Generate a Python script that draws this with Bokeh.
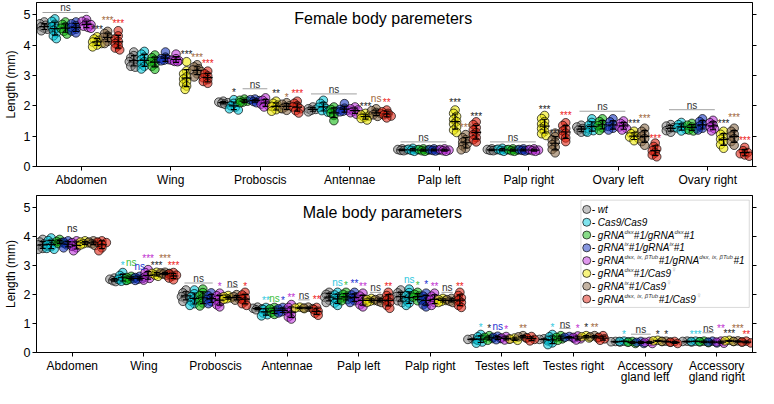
import numpy as np
from bokeh.plotting import figure
from bokeh.models import Range1d, FixedTicker, LinearAxis, Label, BoxAnnotation, ColumnDataSource
from bokeh.layouts import column
from bokeh.embed import file_html
from bokeh.resources import INLINE
from bokeh.core.properties import value

# ---------------- data ----------------
GENOTYPES = ["wt", "Cas9/Cas9", "gRNA dsx#1/gRNA dsx#1", "gRNA ix#1/gRNA ix#1",
             "gRNA dsx,ix,bTub#1/gRNA dsx,ix,bTub#1", "gRNA dsx#1/Cas9", "gRNA ix#1/Cas9",
             "gRNA dsx,ix,bTub#1/Cas9"]
COLORS = ["#8a8a8a", "#00c8dc", "#10b810", "#1030c0", "#c030dc", "#f0ea00", "#8a6a48", "#e02010"]

F_CATS = ["Abdomen", "Wing", "Proboscis", "Antennae", "Palp left", "Palp right", "Ovary left", "Ovary right"]
M_CATS = ["Abdomen", "Wing", "Proboscis", "Antennae", "Palp left", "Palp right", "Testes left",
          "Testes right", "Accessory\ngland left", "Accessory\ngland right"]

# Female
F_ABDOMEN = [[4.76, 4.7, 4.65, 4.6, 4.6, 4.55, 4.52, 4.47],
             [4.86, 4.78, 4.68, 4.6, 4.55, 4.48, 4.4, 4.3, 4.21],
             [4.76, 4.68, 4.6, 4.55, 4.5, 4.45, 4.36],
             [4.76, 4.7, 4.64, 4.58, 4.52, 4.46, 4.4],
             [4.84, 4.78, 4.72, 4.67, 4.62, 4.58, 4.55],
             [4.27, 4.2, 4.15, 4.1, 4.05, 4.0, 3.94],
             [4.45, 4.38, 4.3, 4.25, 4.2, 4.12, 4.05],
             [4.47, 4.3, 4.2, 4.12, 4.05, 3.98, 3.9, 3.84]]
F_WING = [[3.77, 3.65, 3.58, 3.5, 3.45, 3.38, 3.3, 3.27],
          [3.79, 3.7, 3.6, 3.52, 3.45, 3.38, 3.3, 3.21],
          [3.67, 3.58, 3.5, 3.45, 3.38, 3.3, 3.2],
          [3.77, 3.6, 3.55, 3.52, 3.5, 3.48],
          [3.7, 3.55, 3.5, 3.48, 3.46, 3.45],
          [3.45, 3.15, 3.05, 2.95, 2.88, 2.8, 2.72, 2.65, 2.54],
          [3.35, 3.28, 3.22, 3.18, 3.12, 3.05, 2.95],
          [3.14, 3.05, 2.98, 2.92, 2.86, 2.8, 2.74]]
F_PROBOSCIS = [[2.15, 2.12, 2.1, 2.08, 2.05],
               [2.2, 2.08, 2.0, 1.95, 1.9, 1.86],
               [2.22, 2.18, 2.15, 2.12, 2.1],
               [2.22, 2.2, 2.17, 2.14, 2.1],
               [2.26, 2.18, 2.1, 2.05, 2.0, 1.96],
               [2.15, 2.08, 2.02, 1.98, 1.92, 1.87, 1.82],
               [2.1, 2.05, 2.0, 1.96, 1.9, 1.85],
               [2.15, 2.08, 2.0, 1.96, 1.9, 1.84, 1.76]]
F_ANTENNAE = [[1.96, 1.9, 1.88, 1.85, 1.8],
              [2.18, 2.08, 2.0, 1.95, 1.9, 1.84, 1.79],
              [1.96, 1.88, 1.82, 1.76, 1.68, 1.51],
              [2.07, 1.92, 1.88, 1.85, 1.82, 1.8],
              [1.96, 1.9, 1.86, 1.82, 1.77, 1.72],
              [1.75, 1.7, 1.66, 1.62, 1.58, 1.53],
              [1.9, 1.84, 1.78, 1.74, 1.7, 1.65],
              [1.86, 1.8, 1.75, 1.7, 1.66, 1.6]]
F_PALP_LEFT = [[0.58, 0.56, 0.55, 0.53, 0.52],
               [0.6, 0.57, 0.55, 0.53, 0.5],
               [0.58, 0.56, 0.54, 0.52, 0.5],
               [0.58, 0.56, 0.54, 0.53, 0.51],
               [0.58, 0.56, 0.54, 0.52, 0.5],
               [1.86, 1.75, 1.65, 1.55, 1.48, 1.4, 1.3, 1.2, 1.12],
               [1.05, 0.95, 0.88, 0.8, 0.74, 0.68, 0.6, 0.55],
               [1.47, 1.38, 1.28, 1.2, 1.12, 1.05, 0.95, 0.88, 0.81]]
F_PALP_RIGHT = [[0.58, 0.56, 0.55, 0.53, 0.52],
                [0.6, 0.57, 0.55, 0.53, 0.5],
                [0.58, 0.56, 0.54, 0.52, 0.5],
                [0.58, 0.56, 0.54, 0.53, 0.51],
                [0.58, 0.56, 0.54, 0.52, 0.5],
                [1.68, 1.58, 1.48, 1.4, 1.33, 1.25, 1.15, 1.08, 1.02],
                [1.1, 0.98, 0.88, 0.8, 0.72, 0.64, 0.56, 0.45],
                [1.44, 1.35, 1.25, 1.17, 1.1, 1.02, 0.94, 0.82]]
F_OVARY_LEFT = [[1.36, 1.3, 1.25, 1.2, 1.16, 1.13],
                [1.57, 1.45, 1.36, 1.3, 1.24, 1.18, 1.13],
                [1.57, 1.48, 1.4, 1.34, 1.27, 1.19],
                [1.57, 1.47, 1.38, 1.32, 1.26, 1.2],
                [1.5, 1.42, 1.35, 1.3, 1.25, 1.2],
                [1.16, 1.08, 1.02, 0.97, 0.92, 0.85],
                [1.26, 1.16, 1.07, 1.0, 0.92, 0.82, 0.7],
                [0.77, 0.66, 0.58, 0.52, 0.45, 0.38, 0.32]]
F_OVARY_RIGHT = [[1.38, 1.33, 1.28, 1.24, 1.18, 1.13],
                 [1.45, 1.38, 1.32, 1.27, 1.22, 1.17],
                 [1.42, 1.36, 1.3, 1.25, 1.2, 1.17],
                 [1.57, 1.48, 1.4, 1.33, 1.26, 1.2],
                 [1.52, 1.44, 1.37, 1.3, 1.24, 1.17],
                 [1.16, 1.06, 0.97, 0.9, 0.82, 0.72, 0.6],
                 [1.26, 1.16, 1.07, 1.0, 0.92, 0.82, 0.7],
                 [0.63, 0.52, 0.46, 0.42, 0.38, 0.34]]

# Male
M_ABDOMEN = [[3.89, 3.8, 3.74, 3.7, 3.65, 3.58, 3.55],
             [3.94, 3.85, 3.76, 3.7, 3.64, 3.58, 3.55],
             [3.89, 3.82, 3.78, 3.76, 3.75],
             [3.84, 3.8, 3.75, 3.7, 3.65, 3.6],
             [3.84, 3.78, 3.72, 3.66, 3.6, 3.5],
             [3.84, 3.8, 3.77, 3.74, 3.7],
             [3.84, 3.8, 3.78, 3.74, 3.68],
             [3.84, 3.8, 3.78, 3.72, 3.6, 3.5]]
M_WING = [[2.56, 2.52, 2.5, 2.47, 2.44],
          [2.75, 2.65, 2.58, 2.52, 2.48, 2.45],
          [2.62, 2.58, 2.55, 2.52, 2.48],
          [2.62, 2.58, 2.55, 2.52, 2.48],
          [2.85, 2.75, 2.67, 2.6, 2.55, 2.49],
          [2.76, 2.72, 2.7, 2.66, 2.62],
          [2.76, 2.74, 2.72, 2.7, 2.66],
          [2.75, 2.7, 2.66, 2.62, 2.56, 2.5]]
M_PROBOSCIS = [[2.15, 2.05, 1.97, 1.92, 1.85, 1.76],
               [2.15, 2.02, 1.92, 1.85, 1.76, 1.68, 1.62],
               [2.18, 2.06, 1.96, 1.88, 1.8, 1.7, 1.6],
               [2.05, 1.95, 1.88, 1.82, 1.75, 1.68],
               [2.04, 1.95, 1.87, 1.8, 1.72, 1.64, 1.57],
               [1.96, 1.92, 1.88, 1.85, 1.83],
               [1.99, 1.92, 1.87, 1.84, 1.8],
               [2.07, 1.98, 1.9, 1.83, 1.75, 1.68, 1.62]]
M_ANTENNAE = [[1.56, 1.52, 1.5, 1.47],
              [1.55, 1.48, 1.42, 1.36, 1.3, 1.26],
              [1.55, 1.5, 1.44, 1.38, 1.31],
              [1.55, 1.5, 1.45, 1.4, 1.36],
              [1.65, 1.55, 1.45, 1.38, 1.3, 1.22, 1.15],
              [1.56, 1.53, 1.51],
              [1.56, 1.53, 1.51],
              [1.55, 1.48, 1.42, 1.35, 1.28]]
M_PALP_LEFT = [[2.07, 2.0, 1.94, 1.9, 1.8, 1.72],
               [2.07, 1.98, 1.92, 1.86, 1.78, 1.7, 1.62],
               [2.07, 2.0, 1.94, 1.88, 1.82, 1.78],
               [2.07, 1.98, 1.92, 1.86, 1.78, 1.72],
               [2.04, 1.94, 1.86, 1.8, 1.72, 1.64, 1.57],
               [1.86, 1.82, 1.79, 1.76, 1.72],
               [1.86, 1.82, 1.8, 1.76, 1.72],
               [2.07, 1.96, 1.88, 1.8, 1.72, 1.62, 1.52]]
M_PALP_RIGHT = [[2.15, 2.05, 1.97, 1.92, 1.85, 1.78, 1.72],
                [2.18, 2.06, 1.96, 1.88, 1.8, 1.7, 1.62],
                [2.07, 2.0, 1.94, 1.9, 1.84, 1.78],
                [2.04, 1.94, 1.86, 1.8, 1.72, 1.64, 1.57],
                [2.04, 1.94, 1.86, 1.8, 1.72, 1.62],
                [1.86, 1.82, 1.79, 1.76, 1.72],
                [1.86, 1.82, 1.8, 1.76, 1.72],
                [2.07, 1.96, 1.88, 1.8, 1.72, 1.62, 1.55]]
M_TESTES_LEFT = [[0.47, 0.45, 0.44],
                 [0.62, 0.54, 0.48, 0.42, 0.36, 0.32],
                 [0.58, 0.52, 0.48, 0.42],
                 [0.56, 0.52, 0.48, 0.44],
                 [0.55, 0.5, 0.46, 0.43],
                 [0.5, 0.46, 0.42],
                 [0.58, 0.54, 0.5],
                 [0.55, 0.5, 0.45, 0.4]]
M_TESTES_RIGHT = [[0.47, 0.45, 0.44],
                  [0.62, 0.54, 0.46, 0.4, 0.33, 0.27],
                  [0.58, 0.52, 0.47, 0.42],
                  [0.55, 0.52, 0.49],
                  [0.57, 0.52, 0.47, 0.43],
                  [0.58, 0.54, 0.5],
                  [0.58, 0.54, 0.5],
                  [0.58, 0.52, 0.47, 0.42]]
M_ACC_LEFT = [[0.38, 0.37, 0.36],
              [0.39, 0.38, 0.37],
              [0.38, 0.35, 0.31],
              [0.38, 0.35, 0.31],
              [0.38, 0.35, 0.31],
              [0.42, 0.4, 0.38],
              [0.39, 0.38, 0.36],
              [0.38, 0.35, 0.31]]
M_ACC_RIGHT = [[0.39, 0.38, 0.36],
               [0.39, 0.38, 0.37],
               [0.39, 0.37, 0.34],
               [0.39, 0.36, 0.33],
               [0.39, 0.36, 0.32],
               [0.42, 0.4, 0.38],
               [0.4, 0.38, 0.36],
               [0.39, 0.36, 0.33]]

F_DATA = [F_ABDOMEN, F_WING, F_PROBOSCIS, F_ANTENNAE, F_PALP_LEFT, F_PALP_RIGHT, F_OVARY_LEFT, F_OVARY_RIGHT]
M_DATA = [M_ABDOMEN, M_WING, M_PROBOSCIS, M_ANTENNAE, M_PALP_LEFT, M_PALP_RIGHT, M_TESTES_LEFT,
          M_TESTES_RIGHT, M_ACC_LEFT, M_ACC_RIGHT]

# significance annotations: (category, first group, last group, text, colour key, lift, bracket line)
F_ANNOT = [
    (0, 0, 4, "ns", "k", -0.04, True), (0, 5, 5, "***", "k", 0, False), (0, 6, 6, "***", "br", 0.12, False), (0, 7, 7, "***", "r", 0, False),
    (1, 5, 5, "***", "k", 0, False), (1, 6, 6, "***", "br", 0, False), (1, 7, 7, "***", "r", 0, False),
    (2, 1, 1, "*", "k", 0, False), (2, 2, 4, "ns", "k", 0.05, True), (2, 5, 5, "**", "k", 0, False), (2, 6, 6, "*", "br", -0.08, False), (2, 7, 7, "***", "r", 0, False),
    (3, 0, 4, "ns", "k", -0.04, True), (3, 5, 5, "***", "k", 0, False), (3, 6, 6, "ns", "br", 0, False), (3, 7, 7, "**", "r", 0, False),
    (4, 0, 4, "ns", "k", -0.04, True), (4, 5, 5, "***", "k", 0, False), (4, 6, 6, "***", "br", 0, False), (4, 7, 7, "***", "k", -0.08, False),
    (5, 0, 4, "ns", "k", -0.04, True), (5, 5, 5, "***", "k", -0.05, False), (5, 6, 6, "***", "k", -0.25, False), (5, 7, 7, "***", "r", 0, False),
    (6, 0, 4, "ns", "k", 0, True), (6, 5, 5, "***", "k", 0, False), (6, 6, 6, "***", "br", 0.07, False), (6, 7, 7, "***", "r", -0.1, False),
    (7, 0, 4, "ns", "k", 0.05, True), (7, 5, 5, "***", "k", 0, False), (7, 6, 6, "***", "br", 0.1, False), (7, 7, 7, "***", "r", 0, False),
]
M_ANNOT = [
    (0, 0, 7, "ns", "k", 0, False),
    (1, 1, 1, "*", "c", 0, False), (1, 2, 2, "ns", "g", 0.15, False), (1, 3, 3, "ns", "b", 0, False), (1, 4, 4, "***", "m", 0.15, False),
    (1, 5, 5, "***", "k", 0, False), (1, 6, 6, "***", "br", 0.24, False), (1, 7, 7, "***", "r", 0, False),
    (2, 0, 3, "ns", "k", -0.04, True), (2, 4, 4, "*", "m", 0, False), (2, 5, 6, "ns", "k", 0, True), (2, 7, 7, "*", "r", -0.04, False),
    (3, 1, 1, "**", "c", 0, False), (3, 2, 2, "ns", "g", -0.03, False), (3, 3, 3, "*", "b", 0, False), (3, 4, 4, "**", "m", 0, False),
    (3, 5, 6, "ns", "k", 0, True), (3, 7, 7, "**", "r", 0.03, False),
    (4, 1, 1, "ns", "c", 0, False), (4, 2, 2, "*", "g", 0, False), (4, 3, 3, "**", "b", 0.06, False), (4, 4, 4, "**", "m", 0, False),
    (4, 5, 6, "ns", "k", -0.04, True), (4, 7, 7, "**", "r", -0.04, False),
    (5, 1, 1, "ns", "c", 0, False), (5, 2, 2, "*", "g", 0, False), (5, 3, 3, "*", "b", 0.06, False), (5, 4, 4, "**", "m", 0, False),
    (5, 5, 6, "ns", "k", -0.04, True), (5, 7, 7, "**", "r", -0.04, False),
    (6, 1, 1, "*", "c", 0, False), (6, 2, 2, "*", "k", 0, False), (6, 3, 3, "ns", "b", 0, False), (6, 4, 4, "*", "m", 0, False), (6, 6, 6, "**", "br", 0, False),
    (7, 1, 1, "*", "c", 0, False), (7, 2, 3, "ns", "k", 0, True), (7, 4, 4, "*", "m", 0, False), (7, 5, 5, "*", "k", 0.04, False), (7, 6, 6, "**", "br", 0.04, False),
    (8, 1, 1, "*", "c", 0, False), (8, 2, 4, "ns", "k", 0, True), (8, 5, 5, "*", "k", -0.03, False), (8, 6, 6, "*", "k", 0, False),
    (9, 1, 1, "***", "c", 0, False), (9, 2, 3, "ns", "k", 0.04, True), (9, 4, 4, "**", "m", 0.2, False), (9, 5, 5, "***", "k", 0, False),
    (9, 6, 6, "***", "br", 0.18, False), (9, 7, 7, "**", "r", 0, False),
]
ACOL = {"k": "#222222", "br": "#a0683c", "r": "#ee2020", "c": "#30c8e0", "g": "#40c040", "b": "#2030d0", "m": "#c030d0"}

LEGEND_ENTRIES = [
    [("- wt", 0)],
    [("- Cas9/Cas9", 0)],
    [("- gRNA", 0), ("dsx", 1), ("#1/gRNA", 0), ("dsx", 1), ("#1", 0)],
    [("- gRNA", 0), ("ix", 1), ("#1/gRNA", 0), ("ix", 1), ("#1", 0)],
    [("- gRNA", 0), ("dsx, ix, βTub", 1), ("#1/gRNA", 0), ("dsx, ix, βTub", 1), ("#1", 0)],
    [("- gRNA", 0), ("dsx", 1), ("#1/Cas9", 0), ("♀", 2)],
    [("- gRNA", 0), ("ix", 1), ("#1/Cas9", 0), ("♀", 2)],
    [("- gRNA", 0), ("dsx, ix, βTub", 1), ("#1/Cas9", 0), ("♀", 2)],
]

# ---------------- layout ----------------
FONT = "Liberation Sans"
W = 758
LEFT_B, RIGHT_B = 30, 6
FRAME_W = W - LEFT_B - RIGHT_B
FRAME_H = 164
YMAX = 5.4
SP = 0.118
EMW = {'-': .333, ' ': .278, 'g': .556, 'R': .722, 'N': .722, 'A': .667, '#': .556, '1': .556, '/': .278,
       'C': .722, 'a': .556, 's': .5, '9': .556, 'w': .722, 't': .278, 'd': .556, 'x': .5, 'i': .222,
       ',': .278, 'β': .58, 'T': .611, 'u': .556, 'b': .556, '♀': .6}


def tw(s, size):
    return sum(EMW.get(ch, .556) for ch in s) * size


def swarm(vals, xpx, ypx, dmin=3.6):
    cands = [0, -1.5, 1.5, -3, 3, -4.5, 4.5]
    placed, out = [], []
    for v in sorted(vals, reverse=True):
        yy = v * ypx
        best, bestd = 0, -1
        for c in cands:
            d = min([((c - a) ** 2 + (yy - b) ** 2) ** 0.5 for a, b in placed], default=99)
            if d >= dmin:
                best = c
                break
            if d > bestd:
                bestd, best = d, c
        placed.append((best, yy))
        out.append((v, best / xpx))
    return out


def make_panel(cats, data, annots, title, tx, ty, height, mb_top, mb_bottom, legend=False):
    n = len(cats)
    xpx = FRAME_W / n
    ypx = FRAME_H / YMAX
    p = figure(width=W, height=height, x_range=Range1d(0, n), y_range=Range1d(0, YMAX),
               output_backend="svg", toolbar_location=None,
               min_border_left=LEFT_B, min_border_right=RIGHT_B,
               min_border_top=mb_top, min_border_bottom=mb_bottom)
    p.xgrid.visible = False
    p.ygrid.visible = False
    p.outline_line_color = "black"
    p.outline_line_width = 1
    p.background_fill_color = "white"
    p.border_fill_color = "white"

    xa = p.xaxis[0]
    xa.ticker = FixedTicker(ticks=[i + 0.5 for i in range(n)])
    xa.major_label_overrides = {i + 0.5: c for i, c in enumerate(cats)}
    xa.major_label_text_font = FONT
    xa.major_label_text_font_size = "12px"
    xa.major_label_text_color = "black"
    xa.major_label_text_line_height = 0.85
    xa.major_label_standoff = 2
    xa.major_tick_out = 4
    xa.major_tick_in = 0
    xa.minor_tick_line_color = None
    xa.axis_line_color = "black"
    xa.major_tick_line_color = "black"

    ya = p.yaxis[0]
    ya.ticker = FixedTicker(ticks=[0, 1, 2, 3, 4, 5])
    ya.major_label_text_font = FONT
    ya.major_label_text_font_size = "12.5px"
    ya.major_label_text_color = "black"
    ya.major_label_standoff = 2
    ya.major_tick_out = 4
    ya.major_tick_in = 0
    ya.minor_tick_line_color = None
    ya.axis_line_color = "black"
    ya.major_tick_line_color = "black"
    ya.axis_label = "Length (mm)"
    ya.axis_label_text_font = FONT
    ya.axis_label_text_font_style = "normal"
    ya.axis_label_text_font_size = "12px"
    ya.axis_label_text_color = "black"
    ya.axis_label_standoff = 3

    ra = LinearAxis(ticker=FixedTicker(ticks=[0, 1, 2, 3, 4, 5]), major_label_text_font_size="1px",
                    major_label_text_color=None, major_label_text_alpha=0,
                    major_label_standoff=0, major_tick_out=4, major_tick_in=0, minor_tick_line_color=None,
                    axis_line_color="black", major_tick_line_color="black")
    p.add_layout(ra, "right")

    # points
    for g in range(8):
        xs, ys = [], []
        for c in range(n):
            cx = c + 0.5 + SP * (g - 3.5)
            for v, dx in swarm(data[c][g], xpx, ypx):
                xs.append(cx + dx)
                ys.append(v)
        p.scatter(xs, ys, size=8.6, fill_color=COLORS[g], fill_alpha=0.58,
                  line_color="black", line_alpha=0.85, line_width=0.8)

    # mean and SD
    mh = 5.0 / xpx
    ch = 3.0 / xpx
    x0, x1, y0, y1 = [], [], [], []
    for c in range(n):
        for g in range(8):
            cx = c + 0.5 + SP * (g - 3.5)
            arr = np.array(data[c][g])
            m, s = arr.mean(), arr.std(ddof=1)
            x0 += [cx - mh, cx, cx - ch, cx - ch]
            x1 += [cx + mh, cx, cx + ch, cx + ch]
            y0 += [m, m - s, m - s, m + s]
            y1 += [m, m + s, m - s, m + s]
    p.segment(x0, y0, x1, y1, line_color="black", line_width=1.2)

    # annotations
    lx0, lx1, ly = [], [], []
    tx_, ty_, tt, tc = [], [], [], []
    for (c, g0, g1, txt, ck, lift, line) in annots:
        mx = max(max(data[c][g]) for g in range(g0, g1 + 1))
        col = ACOL[ck]
        if line:
            yl = mx + 0.25 + lift
            a = c + 0.5 + SP * (g0 - 3.5) - 0.02
            b = c + 0.5 + SP * (g1 - 3.5) + 0.02
            lx0.append(a); lx1.append(b); ly.append(yl)
            tx_.append((a + b) / 2); ty_.append(yl + 0.15); tt.append(txt); tc.append("#333333")
        else:
            sc = mx + 0.31 + lift
            x = c + 0.5 + SP * (g0 - 3.5) if g0 == g1 else c + 0.5
            y = sc - 0.07 if "*" in txt else sc + 0.03
            tx_.append(x); ty_.append(y); tt.append(txt); tc.append(col)
    if lx0:
        p.segment(lx0, ly, lx1, ly, line_color="#a0a0a0", line_width=1)
    src = ColumnDataSource(dict(x=tx_, y=ty_, t=tt, c=tc))
    p.text("x", "y", text="t", text_color="c", source=src, text_font=value(FONT),
           text_font_size="10px", text_align="center", text_baseline="middle")

    # title
    p.add_layout(Label(x=tx, y=ty, text=title, text_font=FONT, text_font_size="16px",
                       text_align="center", text_baseline="middle", text_color="black"))

    if legend:
        box = BoxAnnotation(left=7.604, right=9.955, top=5.24, bottom=1.55, fill_color="white",
                            fill_alpha=1.0, line_color="#808080", line_width=1, level="underlay")
        p.add_layout(box)
        mxl = 7.685
        rows = [4.92 - 0.44 * k for k in range(8)]
        p.scatter([mxl] * 8, rows, size=8, fill_color=COLORS, fill_alpha=0.5,
                  line_color="black", line_alpha=0.85, line_width=0.8)
        for k, entry in enumerate(LEGEND_ENTRIES):
            off = 5.0
            for seg, kind in entry:
                if kind == 0:
                    size, yo, col = 10, 0, "black"
                elif kind == 1:
                    size, yo, col = 6, 3.5, "#333333"
                else:
                    size, yo, col = 8, 3.5, "#aaaaaa"
                p.add_layout(Label(x=mxl, y=rows[k], x_offset=off, y_offset=yo, text=seg,
                                   text_font=FONT, text_font_style="italic",
                                   text_font_size=f"{size}px", text_color=col,
                                   text_baseline="middle", text_align="left"))
                off += tw(seg, size)
    return p


pf = make_panel(F_CATS, F_DATA, F_ANNOT, "Female body paremeters", 3.874, 4.88, 192, 2, 26)
pm = make_panel(M_CATS, M_DATA, M_ANNOT, "Male body parameters", 4.83, 4.81, 195, 3, 28, legend=True)

layout = column(pf, pm)
open("out.html", "w").write(file_html(layout, INLINE))
